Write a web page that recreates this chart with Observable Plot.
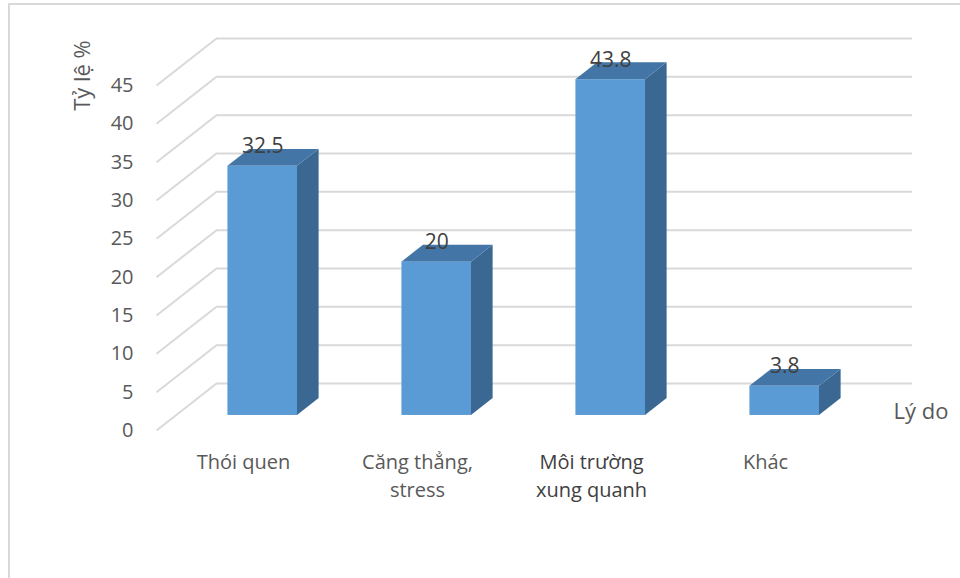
<!DOCTYPE html>
<html>
<head>
<meta charset="utf-8">
<script src="https://cdn.jsdelivr.net/npm/d3@7"></script>
<script src="https://cdn.jsdelivr.net/npm/@observablehq/plot@0.6"></script>
<style>
  html, body { margin: 0; padding: 0; background: #fff; }
  #chart { position: relative; width: 960px; height: 578px; overflow: hidden; }
  #chart .edge { position: absolute; left: 8px; top: 3px; right: -10px; bottom: -10px;
    border-top: 2px solid #d9d9d9; border-left: 2px solid #d9d9d9; }
  #chart svg { position: absolute; left: 0; top: 0; }
</style>
</head>
<body>
<div id="chart"><div class="edge"></div></div>
<script>
// Lý do và tỷ lệ (%)
const categories = ["Thói quen", "Căng thẳng,\nstress", "Môi trường\nxung quanh", "Khác"];
const values = [32.5, 20, 43.8, 3.8];
const yTicks = [0, 5, 10, 15, 20, 25, 30, 35, 40, 45];
const yTitle = "Tỷ lệ %";
const xTitle = "Lý do";

// Oblique 3D projection: a point at depth a (0 = front edge, 1 = back wall)
// is shifted by a·DX category units to the right and a·DY value units up.
const DX = 0.345;
const DY = 6.13;
const BAR_FRONT = 0.32, BAR_BACK = 0.68;  // bar depth span
const HALF = 0.2;                          // half bar width (category units)

const bars = categories.map((c, i) => ({c, i, v: values[i],
  xl: i + 0.5 - HALF, xr: i + 0.5 + HALF}));

// Faces of each box, as two-point areas
const sideFace = bars.flatMap(b => [BAR_FRONT, BAR_BACK].map(a => ({
  c: b.c, x: b.xr + a * DX, y1: a * DY, y2: b.v + a * DY})));
const topFace = bars.flatMap(b => [BAR_FRONT, BAR_BACK].map(a => ({
  c: b.c, y: b.v + a * DY, x1: b.xl + a * DX, x2: b.xr + a * DX})));

const font = "'Open Sans', 'Noto Sans', sans-serif";

const plot = Plot.plot({
  width: 960,
  height: 578,
  marginLeft: 156,
  marginRight: 108,
  marginTop: 85,
  marginBottom: 148,
  x: {domain: [0, 4], axis: null},
  y: {domain: [0, 45], axis: null},
  style: {fontFamily: font, background: "transparent"},
  marks: [
    // back wall gridlines
    Plot.ruleY(yTicks, {y: d => d + DY, x1: DX, x2: 4 + DX, stroke: "#d9d9d9", strokeWidth: 2}),
    // side wall gridlines
    Plot.link(yTicks, {x1: 0, y1: d => d, x2: DX, y2: d => d + DY, stroke: "#d9d9d9", strokeWidth: 2}),
    // bar sides, tops and fronts
    Plot.areaY(sideFace, {x: "x", y1: "y1", y2: "y2", z: "c", fill: "#3a6893"}),
    Plot.areaX(topFace, {y: "y", x1: "x1", x2: "x2", z: "c", fill: "#4375a6"}),
    Plot.rect(bars, {x1: d => d.xl + BAR_FRONT * DX, x2: d => d.xr + BAR_FRONT * DX,
      y1: BAR_FRONT * DY, y2: d => d.v + BAR_FRONT * DY, fill: "#5b9bd5"}),
    // value labels
    Plot.text(bars, {x: d => d.i + 0.5 + BAR_FRONT * DX, y: d => d.v + BAR_FRONT * DY,
      text: d => String(d.v), lineAnchor: "bottom", dy: -13, fontSize: 21, fill: "#404040"}),
    // y tick labels
    Plot.text(yTicks, {x: 0, y: d => d, text: d => String(d), textAnchor: "end", dx: -23,
      fontSize: 20, fill: "#595959"}),
    // category labels
    Plot.text(bars, {x: d => d.i + 0.5, y: 0, text: "c", lineAnchor: "top", dy: 19,
      lineHeight: 1.4, fontSize: 20, fill: d => d.i === 2 ? "#404040" : "#595959"}),
    // axis titles
    Plot.text([xTitle], {x: 4, y: 0, text: d => d, textAnchor: "start", dx: 41, dy: -19,
      fontSize: 22, fill: "#595959"}),
    Plot.text([yTitle], {x: -0.425, y: 46.3, text: d => d, rotate: -90,
      fontSize: 22, fill: "#595959"})
  ]
});

document.getElementById("chart").appendChild(plot);
</script>
</body>
</html>
